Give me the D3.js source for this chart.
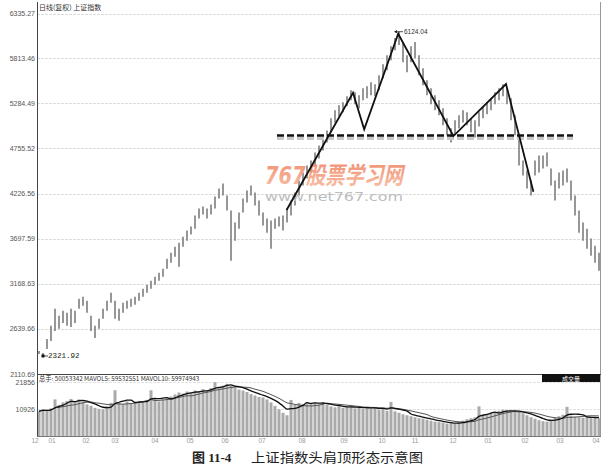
<!DOCTYPE html>
<html><head><meta charset="utf-8">
<script src="https://cdn.jsdelivr.net/npm/d3@7"></script>
<style>body{margin:0;background:#fff}svg{display:block}</style>
</head><body>
<svg id="c" width="616" height="467"></svg>
<script>
const yTicks = [2110.69, 2639.66, 3168.63, 3697.59, 4226.56, 4755.52, 5284.49, 5813.46, 6335.27];
const monthLabels = ["12","01","02","03","04","05","06","07","08","09","10","11","12","01","02","03","04"];
const monthIdx = [-1, 3.25, 11.75, 19, 29, 37.75, 46.5, 55.75, 65.75, 76.25, 85.75, 94, 103.5, 112.25, 121.5, 130.25, 139.25];
const high = [2380,2358,2522,2675,2875,2793,2852,2828,2875,2852,
2993,3016,2969,2793,2675,2758,2875,2969,3063,2969,
2875,2946,2969,2993,3016,3063,3110,3157,3204,3251,
3298,3345,3463,3533,3604,3651,3721,3792,3839,3968,
4051,4074,4051,4098,4192,4286,4344,4203,4027,3886,
4004,4168,4262,4321,4239,4145,4004,3933,3910,3933,
3957,3968,4051,4145,4239,4380,4474,4556,4615,4709,
4791,4873,4967,5109,5203,5261,5297,5367,5438,5414,
5379,5461,5485,5532,5508,5614,5743,5849,5955,6049,
6124,6002,5849,5955,6002,5849,5696,5555,5461,5379,
5320,5226,5109,4991,5085,5144,5203,5179,5109,5085,
5179,5250,5297,5344,5414,5461,5508,5461,5344,5144,
4850,4615,4497,4380,4615,4674,4674,4709,4521,4380,
4474,4497,4521,4380,4203,4027,3886,3815,3698,3615,
3533];
const low = [2345,2322,2405,2499,2616,2640,2710,2675,2663,2710,
2875,2910,2828,2616,2534,2640,2758,2852,2946,2758,
2734,2828,2875,2899,2922,2969,3016,3063,3110,3157,
3204,3251,3345,3416,3486,3369,3604,3674,3745,3815,
3933,3980,3933,3980,4051,4168,4203,4027,3439,3674,
3815,4004,4121,4203,4086,3968,3851,3768,3580,3815,
3839,3792,3886,3968,4086,4203,4321,4403,4474,4556,
4638,4732,4826,4944,5061,5132,5179,5250,5320,5273,
5226,5320,5344,5379,5367,5438,5579,5673,5790,5908,
5967,5767,5649,5767,5814,5614,5496,5379,5273,5203,
5144,5026,4909,4826,4909,4991,5061,5026,4944,4885,
5014,5109,5155,5203,5273,5320,5367,5273,5085,4909,
4556,4438,4286,4203,4438,4474,4521,4544,4321,4145,
4286,4321,4356,4145,3968,3768,3674,3580,3498,3416,
3322];
const volume = [10000,10800,10200,11200,14800,12600,13600,14200,15000,14000,
14800,13800,12800,12200,11400,11000,10800,12000,13400,18500,
13600,13000,14000,13400,13800,14200,13800,14600,18500,14800,
14000,14800,15400,16000,16800,17600,17200,18000,17600,18400,
18000,19000,18400,19400,21800,19600,20400,21100,20400,19400,
18800,18400,17800,17000,16400,15800,15600,14800,13600,12200,
10800,9400,8400,14600,12600,13400,13000,13800,13200,13600,
12800,13400,12600,12000,11600,12200,11400,11800,12000,11200,
11600,11000,11800,11200,11400,10600,11000,10200,13800,10000,
9400,8800,8400,8000,7600,7200,7000,6600,6200,5800,
5600,5400,5000,5200,5000,5600,6200,6800,7200,7600,
12000,8400,8800,9400,9800,10200,10600,10400,10000,9800,
9600,9200,8400,7600,7000,6400,6000,5800,6600,7400,
8000,8600,11800,8200,7800,7600,7400,7800,7200,7400,
7200];
const volTicks = [10926, 21856];
const patternIdx = [61.9, 78.5, 81.3, 89.8, 103.6, 116.75, 123.6];
const patternVal = [4034, 5409, 4980, 6100, 4901, 5511, 4248];
const necklineIdx = [59.5, 133.5];
const necklineVal = 4907;
const peakLabel = "6124.04", peakIdx = 90, peakVal = 6124.04;
const lowLabel = "2321.92", lowIdx = 1, lowVal = 2321.92;
const volHeader = "总手: 50053342  MAVOL5: 59532551  MAVOL10: 59974943";

const svg = d3.select("#c");
const L = 37, R = 600, T = 2, MB = 374, VB = 436;
const x = d3.scaleLinear().domain([0, 140]).range([39, 599]);
const y = d3.scaleLinear().domain([2110.69, 6335.27]).range([MB, 13.7]);
const yv = d3.scaleLinear().domain([0, 21856]).range([VB, 382]);

// grid
svg.append("g").selectAll("line").data(yTicks.slice(1)).join("line")
  .attr("x1", L).attr("x2", R).attr("y1", d => Math.round(y(d)) + 0.5).attr("y2", d => Math.round(y(d)) + 0.5)
  .attr("stroke", "#dcdcdc").attr("stroke-dasharray", "3,1");
svg.append("g").selectAll("line").data(volTicks).join("line")
  .attr("x1", L).attr("x2", R).attr("y1", d => Math.round(yv(d)) + 0.5).attr("y2", d => Math.round(yv(d)) + 0.5)
  .attr("stroke", "#e2e2e2").attr("stroke-dasharray", "3,1");

// y labels
const lab = "'Liberation Sans', Arial, sans-serif";
svg.append("g").selectAll("text").data(yTicks).join("text")
  .attr("x", 35).attr("y", d => y(d) + 2.5).attr("text-anchor", "end")
  .attr("font-family", lab).attr("font-size", 7).attr("fill", "#555").text(d => d.toFixed(2));
svg.append("g").selectAll("text").data(volTicks).join("text")
  .attr("x", 35).attr("y", d => yv(d) + 2.5).attr("text-anchor", "end")
  .attr("font-family", lab).attr("font-size", 7).attr("fill", "#555").text(d => d);
// x labels
svg.append("g").selectAll("text").data(monthLabels).join("text")
  .attr("x", (d, i) => x(monthIdx[i])).attr("y", 442.5).attr("text-anchor", "middle")
  .attr("font-family", lab).attr("font-size", 6.5).attr("fill", "#999").text(d => d);

// price bars
const idx = d3.range(high.length);
svg.append("g").selectAll("line").data(idx).join("line")
  .attr("x1", i => x(i)).attr("x2", i => x(i))
  .attr("y1", i => y(high[i])).attr("y2", i => y(low[i]))
  .attr("stroke", "#8c8c8c").attr("stroke-width", 1.8);

// volume bars
svg.append("g").selectAll("rect").data(idx).join("rect")
  .attr("x", i => x(i) - 1.5).attr("width", 3)
  .attr("y", i => yv(volume[i])).attr("height", i => VB - yv(volume[i]))
  .attr("fill", "#aaaaaa");
function ma(n) {
  return idx.map(i => d3.mean(volume.slice(Math.max(0, i - n + 1), i + 1)));
}
const ma5 = ma(5), ma10 = ma(10);
const vline = d3.line().x((d, i) => x(i)).y(d => yv(d)).curve(d3.curveMonotoneX);
svg.append("path").attr("d", vline(ma10)).attr("fill", "none").attr("stroke", "#555").attr("stroke-width", 1);
svg.append("path").attr("d", vline(ma5)).attr("fill", "none").attr("stroke", "#111").attr("stroke-width", 1.3);

// frame
svg.append("line").attr("x1", L + 0.5).attr("x2", L + 0.5).attr("y1", T).attr("y2", VB).attr("stroke", "#444");
svg.append("line").attr("x1", R + 0.5).attr("x2", R + 0.5).attr("y1", T).attr("y2", VB).attr("stroke", "#999");
svg.append("line").attr("x1", L).attr("x2", R + 1).attr("y1", MB + 0.5).attr("y2", MB + 0.5).attr("stroke", "#444");
svg.append("line").attr("x1", L).attr("x2", R + 1).attr("y1", VB + 0.5).attr("y2", VB + 0.5).attr("stroke", "#777");

// headers
svg.append("text").attr("x", 39).attr("y", 10).attr("font-family", "'Noto Sans CJK SC', sans-serif")
  .attr("font-size", 7).attr("fill", "#333").text("日线(复权)  上证指数");
svg.append("text").attr("x", 39).attr("y", 381).attr("font-family", "'Noto Sans CJK SC', " + lab)
  .attr("font-size", 6.3).attr("fill", "#333").text(volHeader);
svg.append("rect").attr("x", 542).attr("y", 374).attr("width", 58).attr("height", 8).attr("fill", "#111");
svg.append("text").attr("x", 571).attr("y", 380.5).attr("text-anchor", "middle")
  .attr("font-family", "'Noto Sans CJK SC', sans-serif").attr("font-size", 6).attr("fill", "#fff").text("成交量");

// watermark
const defs = svg.append("defs");
const g = defs.append("linearGradient").attr("id", "wm").attr("x1", 0).attr("x2", 0).attr("y1", 0).attr("y2", 1);
g.append("stop").attr("offset", "0%").attr("stop-color", "#ef7f5c");
g.append("stop").attr("offset", "100%").attr("stop-color", "#f7b89a");
svg.append("text").attr("x", 265).attr("y", 184).attr("textLength", 138).attr("lengthAdjust", "spacingAndGlyphs")
  .attr("font-family", "'DejaVu Sans', 'Noto Sans CJK SC', sans-serif").attr("font-weight", "bold").attr("font-style", "italic")
  .attr("font-size", 24).attr("fill", "url(#wm)").attr("opacity", 0.85).text("767股票学习网");
svg.append("text").attr("x", 265).attr("y", 201).attr("textLength", 138).attr("lengthAdjust", "spacingAndGlyphs")
  .attr("font-family", "'DejaVu Sans', sans-serif").attr("font-size", 12).attr("fill", "#bdbdbd").text("www.net767.com");

// neckline
const nk = necklineIdx.map(i => [x(i), y(necklineVal)]);
svg.append("line").attr("x1", nk[0][0]).attr("x2", nk[1][0]).attr("y1", nk[0][1] + 3).attr("y2", nk[1][1] + 3)
  .attr("stroke", "#c8c8c8").attr("stroke-width", 3).attr("stroke-dasharray", "7,3");
svg.append("line").attr("x1", nk[0][0]).attr("x2", nk[1][0]).attr("y1", nk[0][1]).attr("y2", nk[1][1])
  .attr("stroke", "#111").attr("stroke-width", 2.6).attr("stroke-dasharray", "7,3");

// pattern line
const pl = d3.line().x((d, i) => x(patternIdx[i])).y(d => y(d));
svg.append("path").attr("d", pl(patternVal)).attr("fill", "none").attr("stroke", "#111")
  .attr("stroke-width", 1.8).attr("stroke-linejoin", "miter");

// annotations
const px = x(peakIdx), py = y(peakVal);
svg.append("line").attr("x1", px - 4).attr("x2", px + 4).attr("y1", py).attr("y2", py).attr("stroke", "#222").attr("stroke-width", 0.8);
svg.append("path").attr("d", `M${px - 5},${py} l3,-1.6 l0,3.2 z`).attr("fill", "#222");
svg.append("text").attr("x", px + 5).attr("y", py + 2.3).attr("font-family", lab).attr("font-size", 6.5).attr("fill", "#333").text(peakLabel);
const lx = x(lowIdx), ly = y(lowVal);
svg.append("rect").attr("x", lx - 1.5).attr("y", ly - 1.5).attr("width", 3).attr("height", 3).attr("fill", "#111");
svg.append("line").attr("x1", lx + 1).attr("x2", lx + 5).attr("y1", ly).attr("y2", ly).attr("stroke", "#222").attr("stroke-width", 0.8);
svg.append("text").attr("x", lx + 5).attr("y", ly + 2.5).attr("font-family", "'Liberation Mono', monospace").attr("font-size", 7.5).attr("fill", "#222").text(lowLabel);

// caption
svg.append("text").attr("x", 192).attr("y", 462).attr("font-family", "'Liberation Serif', 'Noto Sans CJK SC', serif")
  .attr("font-size", 13).attr("font-weight", "bold").attr("fill", "#222").text("图 11-4");
svg.append("text").attr("x", 251).attr("y", 462).attr("textLength", 172).attr("lengthAdjust", "spacingAndGlyphs")
  .attr("font-family", "'Noto Sans CJK SC', sans-serif")
  .attr("font-size", 13).attr("fill", "#222").text("上证指数头肩顶形态示意图");
</script>
</body></html>
